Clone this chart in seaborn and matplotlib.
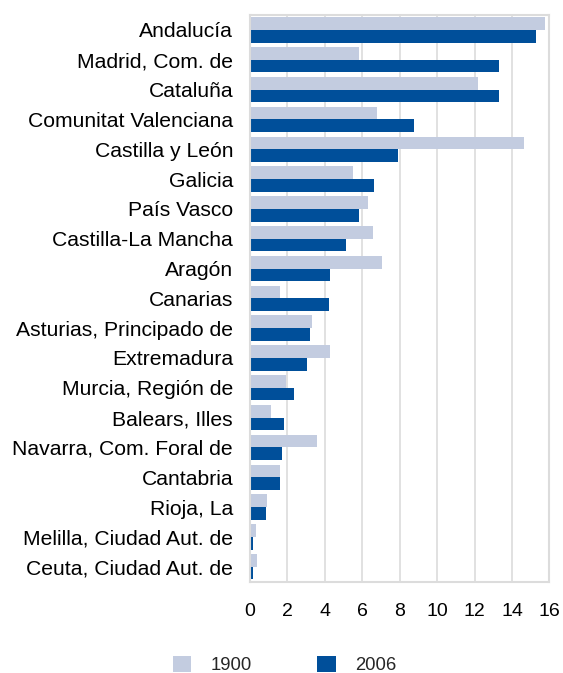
import matplotlib
matplotlib.use("Agg")
import matplotlib.pyplot as plt
import seaborn as sns
import pandas as pd
from matplotlib.patches import Patch

regions = ["Andalucía", "Madrid, Com. de", "Cataluña", "Comunitat Valenciana",
           "Castilla y León", "Galicia", "País Vasco", "Castilla-La Mancha",
           "Aragón", "Canarias", "Asturias, Principado de", "Extremadura",
           "Murcia, Región de", "Balears, Illes", "Navarra, Com. Foral de",
           "Cantabria", "Rioja, La", "Melilla, Ciudad Aut. de", "Ceuta, Ciudad Aut. de"]
v1900 = [15.74, 5.85, 12.21, 6.79, 14.63, 5.49, 6.31, 6.58, 7.04, 1.62,
         3.35, 4.31, 1.93, 1.14, 3.57, 1.64, 0.94, 0.32, 0.37]
v2006 = [15.29, 13.33, 13.28, 8.75, 7.93, 6.63, 5.83, 5.13, 4.30, 4.24,
         3.24, 3.08, 2.39, 1.85, 1.71, 1.64, 0.87, 0.20, 0.18]
years = ["1900", "2006"]
xticks = [0, 2, 4, 6, 8, 10, 12, 14, 16]

df = pd.DataFrame({
    "region": regions * 2,
    "year": [years[0]] * len(regions) + [years[1]] * len(regions),
    "value": v1900 + v2006,
})

sns.set_theme(style="white")
plt.rcParams["font.family"] = ["Liberation Sans", "DejaVu Sans"]

colors = {"1900": "#C3CCE0", "2006": "#004F9A"}

fig = plt.figure(figsize=(5.63, 6.73), dpi=100)
ax = fig.add_axes([0.4435, 0.1357, 0.976 - 0.4435, 0.9777 - 0.1357])

sns.barplot(data=df, y="region", x="value", hue="year", orient="h",
            palette=colors, width=0.85, gap=0, ax=ax, legend=False,
            edgecolor="none", saturation=1)

ax.set_xlim(0, 16)
ax.set_xticks(xticks)
ax.set_xticklabels([str(t) for t in xticks], fontsize=14, color="black")
for lab in ax.get_yticklabels():
    lab.set_fontsize(15.2)
    lab.set_color("black")
ax.tick_params(axis="y", length=0, pad=12)
ax.tick_params(axis="x", length=0, pad=15)
ax.set_xlabel("")
ax.set_ylabel("")
ax.set_ylim(len(regions) - 0.5, -0.5)
ax.grid(axis="x", color="#DCDCDC", linewidth=1.2)
ax.set_axisbelow(True)
for s in ax.spines.values():
    s.set_color("#DCDCDC")
    s.set_linewidth(1.5)

handles = [Patch(facecolor=colors[y], edgecolor="none") for y in years]
fig.legend(handles, years, loc="center left", bbox_to_anchor=(173 / 563, 8 / 673),
           ncol=2, frameon=False, fontsize=13.3, handlelength=1.0,
           handleheight=1.0, columnspacing=3.55, handletextpad=1.03,
           borderpad=0, borderaxespad=0)

fig.savefig("out.png", dpi=100)
